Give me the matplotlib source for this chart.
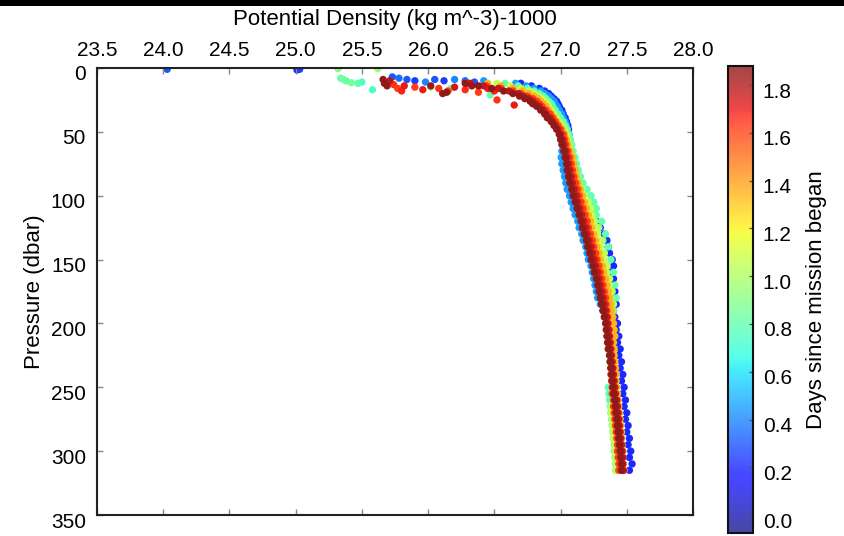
import numpy as np
import matplotlib
matplotlib.use("Agg")
import matplotlib.pyplot as plt
from matplotlib.colors import ListedColormap, Normalize
from matplotlib.cm import ScalarMappable
from matplotlib.transforms import ScaledTranslation
from matplotlib.patches import Rectangle

plt.rcParams['font.family'] = ['Liberation Sans', 'DejaVu Sans']

# ---------------- data ----------------
pressure_levels = [12, 14, 16, 18, 20, 22, 24, 26, 28, 30,
                   33, 36, 39, 42, 45, 48, 52, 56, 60,
                   65, 70, 75, 80, 85, 90, 95, 100, 105, 110,
                   115, 120, 125, 130, 135, 140, 145, 150, 155, 160,
                   165, 170, 175, 180, 185, 190, 195, 200, 205, 210,
                   215, 220, 225, 230, 235, 240, 245, 250, 255, 260,
                   265, 270, 275, 280, 285, 290, 295, 300, 305, 310, 315]

cast_days = [0.20, 0.45, 0.80, 1.05, 1.35, 1.62, 1.78, 1.87]

cast_020 = [26.70, 26.78, 26.84, 26.88, 26.91, 26.93, 26.95, 26.97, 26.98, 26.99,
            27.01, 27.02, 27.035, 27.045, 27.055, 27.06, 27.065, 27.06, 27.05,
            27.02, 27.015, 27.02, 27.025, 27.035, 27.045, 27.06, 27.07, 27.085, 27.10,
            27.24, 27.27, 27.30, 27.33, 27.35, 27.36, 27.37, 27.39, 27.40, 27.38,
            27.40, 27.38, 27.41, 27.39, 27.42, 27.40, 27.41, 27.43, 27.42, 27.44,
            27.43, 27.45, 27.44, 27.46, 27.45, 27.47, 27.46, 27.48, 27.47, 27.49,
            27.48, 27.50, 27.49, 27.51, 27.50, 27.52, 27.51, 27.53, 27.52, 27.54, 27.52]

cast_045 = [26.66, 26.74, 26.80, 26.85, 26.88, 26.91, 26.93, 26.95, 26.96, 26.975,
            26.99, 27.01, 27.02, 27.035, 27.045, 27.05, 27.055, 27.06, 27.06,
            27.01, 27.005, 27.01, 27.02, 27.03, 27.04, 27.05, 27.07, 27.08, 27.095,
            27.11, 27.13, 27.14, 27.16, 27.17, 27.19, 27.20, 27.21, 27.23, 27.24,
            27.25, 27.26, 27.27, 27.28, 27.30, 27.32, 27.35, 27.36, 27.365, 27.37,
            27.38, 27.385, 27.39, 27.395, 27.40, 27.405, 27.41, 27.415, 27.42, 27.43,
            27.435, 27.44, 27.445, 27.45, 27.455, 27.46, 27.465, 27.47, 27.47, 27.475, 27.475]

cast_080 = [26.58, 26.68, 26.75, 26.80, 26.84, 26.87, 26.89, 26.91, 26.93, 26.94,
            26.96, 26.98, 27.00, 27.02, 27.035, 27.05, 27.065, 27.075, 27.085,
            27.095, 27.11, 27.12, 27.135, 27.15, 27.17, 27.20, 27.23, 27.25, 27.27,
            27.27, 27.31, 27.29, 27.34, 27.32, 27.36, 27.33, 27.38, 27.35, 27.40,
            27.37, 27.41, 27.38, 27.42, 27.36, 27.40, 27.35, 27.345, 27.35, 27.355,
            27.36, 27.365, 27.37, 27.375, 27.38, 27.385, 27.39, 27.36, 27.365, 27.37,
            27.375, 27.38, 27.385, 27.39, 27.395, 27.40, 27.405, 27.405, 27.41, 27.415, 27.415]

cast_105 = [26.52, 26.62, 26.70, 26.76, 26.80, 26.83, 26.86, 26.88, 26.90, 26.91,
            26.93, 26.95, 26.97, 26.99, 27.01, 27.03, 27.045, 27.055, 27.065,
            27.08, 27.09, 27.10, 27.11, 27.125, 27.14, 27.16, 27.18, 27.21, 27.23,
            27.24, 27.26, 27.28, 27.28, 27.31, 27.30, 27.33, 27.33, 27.35, 27.35,
            27.37, 27.37, 27.39, 27.38, 27.40, 27.39, 27.39, 27.345, 27.35, 27.355,
            27.36, 27.365, 27.37, 27.375, 27.38, 27.385, 27.39, 27.395, 27.40, 27.405,
            27.38, 27.385, 27.39, 27.39, 27.40, 27.40, 27.41, 27.41, 27.415, 27.42, 27.42]

cast_135 = [26.45, 26.55, 26.64, 26.71, 26.76, 26.80, 26.83, 26.85, 26.87, 26.89,
            26.91, 26.93, 26.95, 26.97, 26.99, 27.01, 27.03, 27.045, 27.055,
            27.075, 27.09, 27.10, 27.11, 27.12, 27.135, 27.15, 27.165, 27.18, 27.195,
            27.21, 27.225, 27.235, 27.25, 27.265, 27.275, 27.29, 27.30, 27.315, 27.325,
            27.34, 27.35, 27.36, 27.37, 27.38, 27.385, 27.395, 27.40, 27.405, 27.41,
            27.40, 27.405, 27.405, 27.41, 27.415, 27.42, 27.42, 27.425, 27.43, 27.435,
            27.44, 27.445, 27.45, 27.455, 27.46, 27.46, 27.465, 27.47, 27.47, 27.475, 27.48]

cast_162 = [26.30, 26.44, 26.55, 26.64, 26.70, 26.75, 26.79, 26.82, 26.84, 26.86,
            26.89, 26.92, 26.94, 26.96, 26.98, 27.00, 27.02, 27.03, 27.04,
            27.055, 27.07, 27.08, 27.09, 27.10, 27.115, 27.13, 27.14, 27.155, 27.17,
            27.185, 27.20, 27.21, 27.225, 27.24, 27.25, 27.265, 27.275, 27.29, 27.30,
            27.31, 27.32, 27.33, 27.34, 27.345, 27.35, 27.355, 27.36, 27.365, 27.365,
            27.37, 27.37, 27.375, 27.375, 27.38, 27.38, 27.385, 27.39, 27.39, 27.40,
            27.40, 27.405, 27.41, 27.415, 27.42, 27.425, 27.43, 27.43, 27.435, 27.44, 27.44]

cast_178 = [26.32, 26.42, 26.53, 26.61, 26.68, 26.72, 26.76, 26.79, 26.81, 26.84,
            26.87, 26.89, 26.92, 26.94, 26.96, 26.98, 27.00, 27.015, 27.025,
            27.04, 27.05, 27.06, 27.07, 27.08, 27.09, 27.105, 27.12, 27.13, 27.145,
            27.16, 27.175, 27.19, 27.20, 27.215, 27.23, 27.24, 27.255, 27.265, 27.28,
            27.29, 27.30, 27.31, 27.32, 27.33, 27.34, 27.35, 27.355, 27.365, 27.37,
            27.375, 27.38, 27.385, 27.39, 27.395, 27.40, 27.405, 27.41, 27.415, 27.425,
            27.43, 27.435, 27.44, 27.445, 27.45, 27.455, 27.46, 27.465, 27.47, 27.47, 27.475]

cast_187 = [26.28, 26.38, 26.48, 26.57, 26.64, 26.69, 26.73, 26.77, 26.79, 26.82,
            26.85, 26.88, 26.90, 26.93, 26.95, 26.97, 26.99, 27.00, 27.01,
            27.025, 27.035, 27.045, 27.05, 27.06, 27.07, 27.085, 27.095, 27.11, 27.125,
            27.14, 27.155, 27.165, 27.18, 27.195, 27.205, 27.22, 27.23, 27.245, 27.255,
            27.27, 27.28, 27.29, 27.30, 27.31, 27.32, 27.33, 27.34, 27.345, 27.35,
            27.355, 27.36, 27.37, 27.375, 27.38, 27.385, 27.39, 27.395, 27.40, 27.41,
            27.415, 27.42, 27.425, 27.43, 27.435, 27.44, 27.445, 27.45, 27.455, 27.46, 27.46]

casts = [cast_020, cast_045, cast_080, cast_105, cast_135, cast_162, cast_178, cast_187]

# scattered near-surface samples
surf_density = [24.03, 25.01, 25.03, 25.32, 25.36, 25.62,
                25.34, 25.38, 25.42, 25.47, 25.50, 25.58,
                25.66, 25.67, 25.69, 25.71,
                25.74, 25.77, 25.80, 25.82,
                25.73, 25.78, 25.84,
                25.90, 25.98, 26.05, 26.12, 26.20, 26.28, 26.35, 26.42,
                25.90, 25.96, 26.02, 26.08, 26.15, 26.20, 26.28, 26.33, 26.38, 26.45, 26.50,
                26.11, 26.14, 26.02, 26.47, 26.17, 26.52, 26.65]
surf_pressure = [1, 1.5, 1.0, 0.5, 9, 0.5,
                 8, 10, 11.5, 12, 11, 17,
                 9, 12, 14, 10,
                 13, 16, 18, 14,
                 7, 8, 9,
                 10, 11, 9, 10, 9, 10, 11, 10,
                 15, 17, 14, 16, 18, 15, 17, 14, 19, 16, 18,
                 20, 19, 15, 21, 16, 25, 29]
surf_day = [0.30, 0.20, 0.25, 0.90, 0.85, 0.95,
            0.80, 0.80, 0.85, 0.80, 0.75, 0.75,
            1.85, 1.87, 1.85, 1.80,
            1.65, 1.62, 1.68, 1.70,
            0.30, 0.35, 0.30,
            0.25, 0.40, 0.30, 0.25, 0.40, 0.35, 0.30, 0.45,
            1.62, 1.70, 1.85, 1.65, 1.60, 1.75, 1.66, 1.85, 1.62, 1.70, 1.68,
            1.86, 1.87, 0.95, 0.80, 0.85, 1.65, 1.70]

x_ticks = [23.5, 24.0, 24.5, 25.0, 25.5, 26.0, 26.5, 27.0, 27.5, 28.0]
y_ticks = [0, 50, 100, 150, 200, 250, 300, 350]
cbar_ticks = [0.0, 0.2, 0.4, 0.6, 0.8, 1.0, 1.2, 1.4, 1.6, 1.8]
day_lo, day_hi = -0.075, 1.88

# ---------------- assemble points ----------------
rho, pres, days = [], [], []
for d, c in zip(cast_days, casts):
    rho += list(c)
    pres += list(pressure_levels)
    days += [d] * len(c)
rho += surf_density
pres += surf_pressure
days += surf_day
rho = np.array(rho); pres = np.array(pres); days = np.array(days)
order = np.argsort(days, kind="stable")
rho, pres, days = rho[order], pres[order], days[order]

# colormaps: jet, washed toward white
jet = plt.get_cmap('jet')(np.linspace(0, 1, 256))
def washed(cols, a):
    out = cols.copy()
    out[:, :3] = a * cols[:, :3] + (1 - a)
    return ListedColormap(out)
point_cmap = washed(jet, 0.9)
bar_cmap = washed(jet, 0.72)
norm = Normalize(day_lo, day_hi)

# ---------------- figure ----------------
W, H = 845, 536
fig = plt.figure(figsize=(W / 100, H / 100), dpi=100)
fig.patches.append(Rectangle((0, 1 - 6 / H), 1, 6 / H, transform=fig.transFigure,
                             facecolor='black', edgecolor='none', zorder=10))

ax = fig.add_axes([97 / W, (H - 515) / H, (693 - 97) / W, (515 - 68) / H])
ax.scatter(rho, pres, c=days, cmap=point_cmap, norm=norm, s=28, linewidths=0)
ax.set_xlim(23.5, 28.0)
ax.set_ylim(350, 0)
ax.set_xticks(x_ticks)
ax.set_xticklabels([f"{v:.1f}" for v in x_ticks])
ax.set_yticks(y_ticks)
ax.set_yticklabels([str(v) for v in y_ticks])
ax.tick_params(axis='both', which='both', direction='in', length=4, width=1,
               color='#888888', top=True, bottom=True, left=True, right=True,
               labeltop=True, labelbottom=False, labelsize=15, pad=8)
ax.tick_params(axis='x', pad=6)
for s in ax.spines.values():
    s.set_linewidth(1.5)
    s.set_color('#222222')
ax.xaxis.set_label_position('top')
ax.set_xlabel("Potential Density (kg m^-3)-1000", fontsize=16, labelpad=11)
ax.set_ylabel("Pressure (dbar)", fontsize=16, labelpad=4)
off = ScaledTranslation(0, -5 / 100, fig.dpi_scale_trans)
for lab in ax.get_yticklabels():
    lab.set_transform(lab.get_transform() + off)

cax = fig.add_axes([728 / W, (H - 533) / H, 25 / W, (533 - 66) / H])
cb = fig.colorbar(ScalarMappable(norm=norm, cmap=bar_cmap), cax=cax)
cb.set_ticks(cbar_ticks)
cb.set_ticklabels([f"{v:.1f}" for v in cbar_ticks])
cax.tick_params(direction='in', length=3, width=1, color='#555555', labelsize=15, pad=7)
for lab in cax.get_yticklabels():
    lab.set_transform(lab.get_transform() + off)
cb.outline.set_linewidth(1.5)
cb.outline.set_edgecolor('#111111')
cb.set_label("Days since mission began", fontsize=16, labelpad=10)

fig.savefig("out.png", dpi=100)
